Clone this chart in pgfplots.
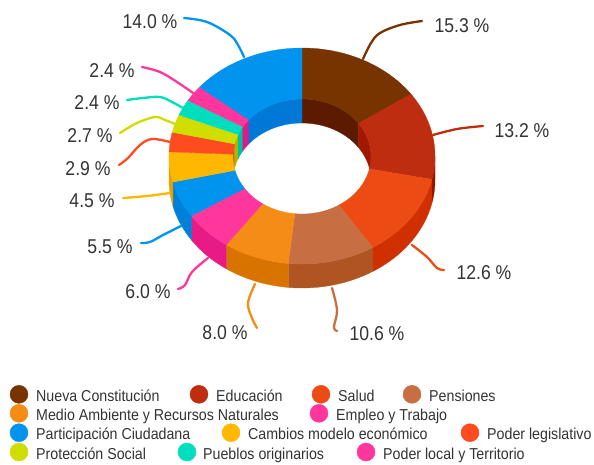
\documentclass[border=0pt]{standalone}
\usepackage{fontspec}
\setmainfont{Liberation Sans}[FakeStretch=0.88]
\newfontfamily\legfont{Liberation Sans}[FakeStretch=0.90]
\usepackage{pgfplots}
\pgfplotsset{compat=1.18}
\definecolor{tA}{HTML}{773300}\definecolor{sA}{HTML}{5C1A00}\definecolor{iA}{HTML}{5C1A00}
\definecolor{tB}{HTML}{BF2D10}\definecolor{sB}{HTML}{9A1500}\definecolor{iB}{HTML}{A01800}
\definecolor{tC}{HTML}{EC4C13}\definecolor{sC}{HTML}{D03000}\definecolor{iC}{HTML}{D03000}
\definecolor{tD}{HTML}{C76F42}\definecolor{sD}{HTML}{AE5522}\definecolor{iD}{HTML}{AE5522}
\definecolor{tE}{HTML}{F48C16}\definecolor{sE}{HTML}{D97300}\definecolor{iE}{HTML}{D97300}
\definecolor{tF}{HTML}{FF369B}\definecolor{sF}{HTML}{E81A85}\definecolor{iF}{HTML}{E81A85}
\definecolor{tG}{HTML}{0094EE}\definecolor{sG}{HTML}{0080D8}\definecolor{iG}{HTML}{0080D8}
\definecolor{tH}{HTML}{FFB700}\definecolor{sH}{HTML}{E89F00}\definecolor{iH}{HTML}{E89F00}
\definecolor{tI}{HTML}{FF4B20}\definecolor{sI}{HTML}{E03A10}\definecolor{iI}{HTML}{E03A10}
\definecolor{tJ}{HTML}{CFDD00}\definecolor{sJ}{HTML}{B0BD00}\definecolor{iJ}{HTML}{A8B800}
\definecolor{tK}{HTML}{00DDBF}\definecolor{sK}{HTML}{00BFA5}\definecolor{iK}{HTML}{00BFA5}
\definecolor{tL}{HTML}{FF369B}\definecolor{sL}{HTML}{E01A85}\definecolor{iL}{HTML}{E01A85}
\definecolor{tM}{HTML}{0094EE}\definecolor{sM}{HTML}{0078D8}\definecolor{iM}{HTML}{0078D8}
\definecolor{txt}{HTML}{333333}
\def\slicedata{15.3/tA/sA/iA,13.2/tB/sB/iB,12.6/tC/sC/iC,10.6/tD/sD/iD,8.0/tE/sE/iE,6.0/tF/sF/iF,5.5/tG/sG/iG,4.5/tH/sH/iH,2.9/tI/sI/iI,2.7/tJ/sJ/iJ,2.4/tK/sK/iK,2.4/tL/sL/iL,14.0/tM/sM/iM}
\def\total{100.1}
\def\cxx{302}
% append an elliptical arc: rx, ry, cy, from angle, to angle (clockwise from top)
\newcommand\addarc[5]{%
  \foreach \k in {0,...,24}{%
    \pgfmathsetmacro\ang{#4+(#5-#4)*\k/24}%
    \pgfmathsetmacro\px{\cxx+#1*sin(\ang)}%
    \pgfmathsetmacro\py{#3-#2*cos(\ang)}%
    \xdef\coords{\coords (\px,\py)}%
  }%
}
\newcommand\poly[1]{%
  \edef\tmp{\noexpand\addplot[fill=#1,draw=#1,line width=0.3pt,forget plot] coordinates {\coords} --cycle;}\tmp
}
\newcommand\wall[7]{% rx ry cyTop cyBottom a b colour
  \gdef\coords{}\addarc{#1}{#2}{#3}{#5}{#6}\addarc{#1}{#2}{#4}{#6}{#5}\poly{#7}%
}
\pgfplotsset{lead/.style={smooth,line width=2.3pt,line cap=round,forget plot,tension=0.6}}
\newcommand\lab[3]{\node[text=txt,font=\fontsize{20}{20}\selectfont,anchor=center,inner sep=0pt] at (axis cs:#1,#2) {#3};}
\newcommand\leg[5]{% x y text-x colour text
  \addplot[only marks,mark=*,mark size=9pt,color=#4,forget plot] coordinates {(#1,#2)};
  \node[text=txt,font=\legfont\fontsize{15.8}{16}\selectfont,anchor=base west,inner sep=0pt] at (axis cs:#3,{#2+7.2}) {#5};
}
\begin{document}
\begin{tikzpicture}
\useasboundingbox (0,0) rectangle (594pt,465pt);
\begin{axis}[
  at={(0,0)},anchor=south west,
  scale only axis,width=594pt,height=465pt,
  xmin=0,xmax=594,ymin=0,ymax=465,y dir=reverse,
  hide axis,clip=true]
% walls
\gdef\cum{0}
\foreach \v/\ct/\cs/\ci in \slicedata {
  \pgfmathsetmacro\a{\cum/\total*360}
  \pgfmathsetmacro\b{(\cum+\v)/\total*360}
  \pgfmathsetmacro\nc{\cum+\v}\xdef\cum{\nc}
  % outer front wall
  \pgfmathsetmacro\aa{max(\a,90)}\pgfmathsetmacro\bb{min(\b,270)}
  \pgfmathtruncatemacro\show{\bb>\aa ? 1 : 0}
  \ifnum\show=1 \wall{133}{108}{156}{180}{\aa}{\bb}{\cs}\fi
  % inner far wall
  \pgfmathsetmacro\bb{min(\b,90)}
  \pgfmathtruncatemacro\show{\bb>\a ? 1 : 0}
  \ifnum\show=1 \wall{69}{57.5}{156.5}{180.5}{\a}{\bb}{\ci}\fi
  \pgfmathsetmacro\aa{max(\a,270)}
  \pgfmathtruncatemacro\show{\b>\aa ? 1 : 0}
  \ifnum\show=1 \wall{69}{57.5}{156.5}{180.5}{\aa}{\b}{\ci}\fi
}
% top faces
\gdef\cum{0}
\foreach \v/\ct/\cs/\ci in \slicedata {
  \pgfmathsetmacro\a{\cum/\total*360}
  \pgfmathsetmacro\b{(\cum+\v)/\total*360}
  \pgfmathsetmacro\nc{\cum+\v}\xdef\cum{\nc}
  \gdef\coords{}\addarc{133}{108}{156}{\a}{\b}\addarc{69}{57.5}{156.5}{\b}{\a}\poly{\ct}
}
% leader lines
\addplot[lead,color=tA] coordinates {(422,21)(400,25)(380,33)(371,43)(363,59)};
\addplot[lead,color=tB] coordinates {(483,126)(457,129)(433,135)};
\addplot[lead,color=tC] coordinates {(444,270)(437,268)(427,257)(412,245)};
\addplot[lead,color=tD] coordinates {(337,331)(334,327)(337,310)(332,288)};
\addplot[lead,color=tE] coordinates {(257,328)(252,318)(248,303)(255,284)};
\addplot[lead,color=tF] coordinates {(178,289)(185,285)(192,272)(208,258)};
\addplot[lead,color=tG] coordinates {(141,243)(150,242)(163,235)(181,226)};
\addplot[lead,color=tH] coordinates {(123,198)(147,196)(170,193)};
\addplot[lead,color=tI] coordinates {(119,165)(128,158)(140,145)(152,139)(170,142)};
\addplot[lead,color=tJ] coordinates {(120,133)(137,123)(155,117)(165,120)(175,124)};
\addplot[lead,color=tK] coordinates {(127,100)(143,98)(160,97)(172,102)(183,108)};
\addplot[lead,color=tL] coordinates {(142,67)(160,72)(177,82)(193,93)};
\addplot[lead,color=tM] coordinates {(184,18)(207,22)(230,35)(238,45)(244,57)};
% value labels
\lab{462}{26}{15.3 \%}
\lab{522}{131}{13.2 \%}
\lab{484}{273}{12.6 \%}
\lab{377}{334}{10.6 \%}
\lab{225}{333}{8.0 \%}
\lab{148}{292}{6.0 \%}
\lab{110}{247}{5.5 \%}
\lab{92}{201}{4.5 \%}
\lab{88}{169}{2.9 \%}
\lab{90}{136}{2.7 \%}
\lab{97}{103}{2.4 \%}
\lab{112}{71}{2.4 \%}
\lab{150}{22}{14.0 \%}
% legend
\leg{19}{394.3}{36}{tA}{Nueva Constitución}
\leg{199}{394.3}{216}{tB}{Educación}
\leg{321}{394.3}{338}{tC}{Salud}
\leg{412}{394.3}{429}{tD}{Pensiones}
\leg{19}{413.3}{36}{tE}{Medio Ambiente y Recursos Naturales}
\leg{319}{413.3}{336}{tF}{Empleo y Trabajo}
\leg{19}{432.7}{36}{tG}{Participación Ciudadana}
\leg{231}{432.7}{248}{tH}{Cambios modelo económico}
\leg{470}{432.7}{487}{tI}{Poder legislativo}
\leg{19}{452}{36}{tJ}{Protección Social}
\leg{187}{452}{203}{tK}{Pueblos originarios}
\leg{366}{452}{383}{tL}{Poder local y Territorio}
\addplot[only marks,mark=*,mark size=9pt,color=tM,forget plot] coordinates {(19,471.5)};
\end{axis}
\end{tikzpicture}
\end{document}
